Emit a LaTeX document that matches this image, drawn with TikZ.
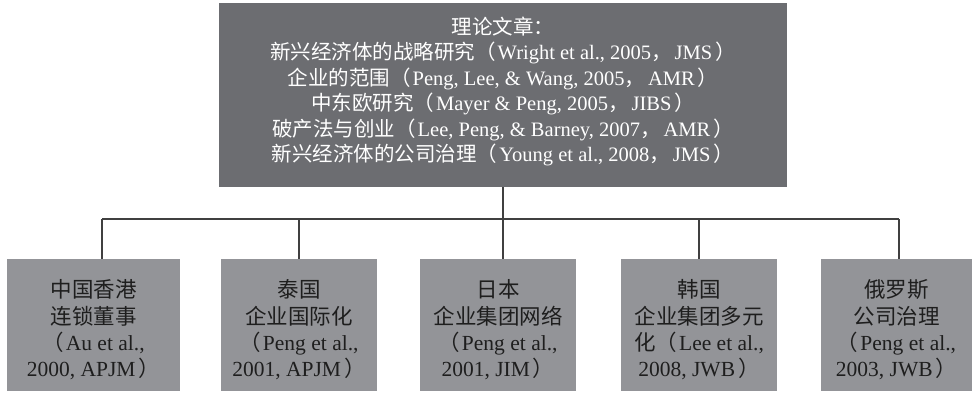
\documentclass[tikz,border=0pt]{standalone}
\usepackage{fontspec}
\setmainfont{Liberation Serif}
\newfontfamily\cjk{Noto Sans CJK SC}
\newcommand\zh[1]{{\cjk #1}}
\newcommand\lp{\zh{（}\kern2pt}
\newcommand\rp{\kern3pt\zh{）}}
\newcommand\cm{\zh{，}\kern3pt}
\newcommand\lines[2]{\raisebox{#1}[\height][\depth]{\begin{tabular}{@{}c@{}}#2\end{tabular}}}
\definecolor{topgray}{HTML}{6C6D71}
\definecolor{subgray}{HTML}{939498}
\definecolor{linegray}{HTML}{404040}
\definecolor{textdark}{HTML}{1E1E1E}
\begin{document}
\begin{tikzpicture}[x=1pt,y=-1pt,
  topbox/.style={fill=topgray, text=white, minimum width=568pt, minimum height=184pt,
    inner sep=0pt, font=\fontsize{20.5}{25.5}\selectfont},
  subbox/.style={fill=subgray, text=textdark, inner sep=0pt,
    minimum height=132pt, font=\fontsize{21.5}{26}\selectfont},
  link/.style={draw=linegray, line width=1.2pt}]
\useasboundingbox (0,0) rectangle (973,393);
\node[topbox] (top) at (503,95) {\lines{2pt}{%
  \zh{理论文章：}\\
  \zh{新兴经济体的战略研究}\lp Wright et al., 2005\cm JMS\rp\\
  \zh{企业的范围}\lp Peng, Lee, \& Wang, 2005\cm AMR\rp\\
  \zh{中东欧研究}\lp Mayer \& Peng, 2005\cm JIBS\rp\\
  \zh{破产法与创业}\lp Lee, Peng, \& Barney, 2007\cm AMR\rp\\
  \zh{新兴经济体的公司治理}\lp Young et al., 2008\cm JMS\rp}};
\node[subbox, minimum width=173pt] (b1) at (93.5,325) {\lines{-7pt}{%
  \zh{中国香港}\\ \zh{连锁董事}\\ \lp Au et al.,\\ 2000, APJM\rp}};
\node[subbox, minimum width=156pt] (b2) at (299,325) {\lines{-7pt}{%
  \zh{泰国}\\ \zh{企业国际化}\\ \lp Peng et al.,\\ 2001, APJM\rp}};
\node[subbox, minimum width=156pt] (b3) at (498,325) {\lines{-7pt}{%
  \zh{日本}\\ \zh{企业集团网络}\\ \lp Peng et al.,\\ 2001, JIM\rp}};
\node[subbox, minimum width=156pt] (b4) at (699,325) {\lines{-7pt}{%
  \zh{韩国}\\ \zh{企业集团多元}\\ \zh{化}\lp Lee et al.,\\ 2008, JWB\rp}};
\node[subbox, minimum width=151pt] (b5) at (896.5,325) {\lines{-7pt}{%
  \zh{俄罗斯}\\ \zh{公司治理}\\ \lp Peng et al.,\\ 2003, JWB\rp}};
\coordinate (j1) at (102,219);
\coordinate (j2) at (299,219);
\coordinate (j3) at (503,219);
\coordinate (j4) at (699,219);
\coordinate (j5) at (899,219);
\draw[link] (top.south) -- (j3 |- b3.north);
\draw[link] (j1) -- (j5);
\draw[link] (j1) -- (j1 |- b1.north);
\draw[link] (j2) -- (j2 |- b2.north);
\draw[link] (j4) -- (j4 |- b4.north);
\draw[link] (j5) -- (j5 |- b5.north);
\end{tikzpicture}
\end{document}
